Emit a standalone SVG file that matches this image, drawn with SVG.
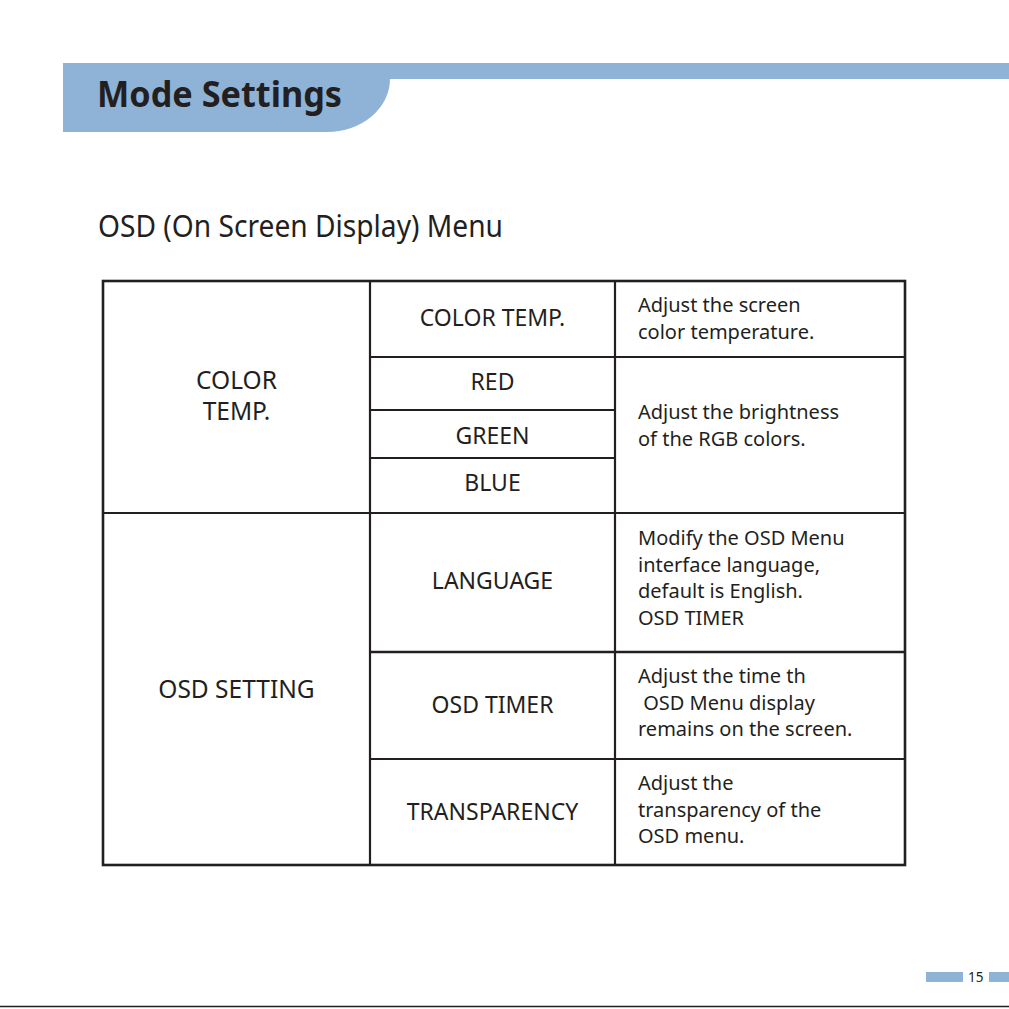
<svg xmlns="http://www.w3.org/2000/svg" width="1009" height="1009" viewBox="0 0 1009 1009">
<style>
.t{font-family:"Noto Sans","Liberation Sans",sans-serif;fill:#231f20;font-size:20px}
.c{text-anchor:middle;font-size:23px}
.c1{font-size:24.5px}
.ln{stroke:#231f20;stroke-width:2.2;fill:none}
.blue{fill:#8fb3d6}
</style>
<rect width="1009" height="1009" fill="#ffffff"/>
<g id="header">
<path class="blue" d="M63 63 H1009 V79 H390 A63 53 0 0 1 327 132 H63 Z"/>
<text x="97" y="107" font-family="'Noto Sans','Liberation Sans',sans-serif" font-weight="bold" font-size="35" fill="#231f20" textLength="245" lengthAdjust="spacingAndGlyphs">Mode Settings</text>
</g>
<g id="title">
<text class="t" x="98" y="237" style="font-size:30px" textLength="405" lengthAdjust="spacingAndGlyphs">OSD (On Screen Display) Menu</text>
</g>
<g id="table-lines">
<rect class="ln" x="103" y="281" width="802" height="584" style="stroke-width:2.6"/>
<line class="ln" x1="370" y1="281" x2="370" y2="865"/>
<line class="ln" x1="615" y1="281" x2="615" y2="865"/>
<line class="ln" x1="370" y1="357" x2="905" y2="357"/>
<line class="ln" x1="370" y1="410" x2="615" y2="410"/>
<line class="ln" x1="370" y1="458" x2="615" y2="458"/>
<line class="ln" x1="103" y1="513" x2="905" y2="513"/>
<line class="ln" x1="370" y1="652" x2="905" y2="652" style="stroke-width:2.6"/>
<line class="ln" x1="370" y1="759" x2="905" y2="759"/>
</g>
<g id="group-color-temp">
<text class="t c c1" x="236.5" y="389">COLOR</text>
<text class="t c c1" x="236.5" y="420">TEMP.</text>
</g>
<g id="group-osd-setting">
<text class="t c c1" x="236.5" y="698">OSD SETTING</text>
</g>
<g id="item-color-temp">
<text class="t c" x="492.5" y="326">COLOR TEMP.</text>
<text class="t" x="638" y="312">Adjust the screen</text>
<text class="t" x="638" y="339">color temperature.</text>
</g>
<g id="item-rgb">
<text class="t c" x="492.5" y="390">RED</text>
<text class="t c" x="492.5" y="444">GREEN</text>
<text class="t c" x="492.5" y="491">BLUE</text>
<text class="t" x="638" y="419">Adjust the brightness</text>
<text class="t" x="638" y="446">of the RGB colors.</text>
</g>
<g id="item-language">
<text class="t c" x="492.5" y="589">LANGUAGE</text>
<text class="t" x="638" y="545">Modify the OSD Menu</text>
<text class="t" x="638" y="572">interface language,</text>
<text class="t" x="638" y="598">default is English.</text>
<text class="t" x="638" y="625">OSD TIMER</text>
</g>
<g id="item-osd-timer">
<text class="t c" x="492.5" y="713">OSD TIMER</text>
<text class="t" x="638" y="683">Adjust the time th</text>
<text class="t" x="638" y="710" xml:space="preserve"> OSD Menu display</text>
<text class="t" x="638" y="736">remains on the screen.</text>
</g>
<g id="item-transparency">
<text class="t c" x="492.5" y="820">TRANSPARENCY</text>
<text class="t" x="638" y="790">Adjust the</text>
<text class="t" x="638" y="817">transparency of the</text>
<text class="t" x="638" y="843">OSD menu.</text>
</g>
<g id="footer">
<rect class="blue" x="926" y="972" width="37" height="10"/>
<rect class="blue" x="989" y="972" width="20" height="10"/>
<text x="968" y="982" font-family="'Noto Sans','Liberation Sans',sans-serif" font-size="13.5" fill="#231f20">15</text>
<line x1="0" y1="1006.5" x2="1009" y2="1006.5" stroke="#231f20" stroke-width="1.5"/>
</g>
</svg>
